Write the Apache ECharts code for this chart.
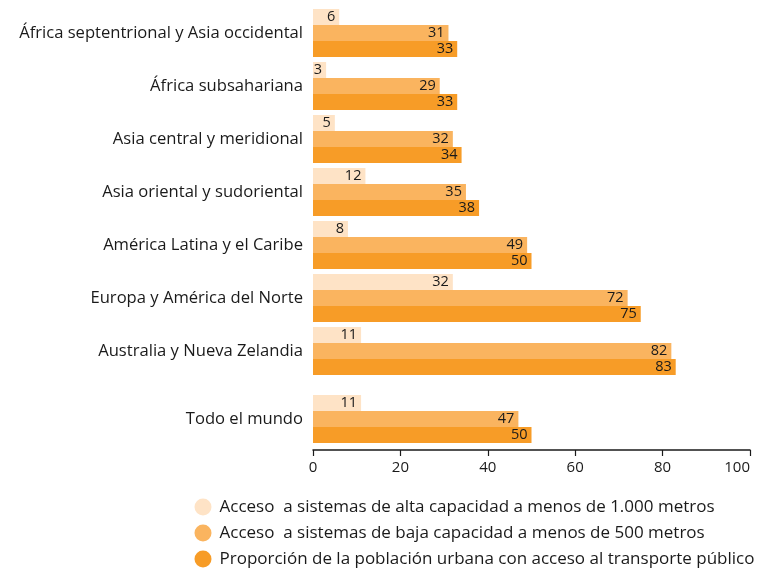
<!DOCTYPE html>
<html>
<head>
<meta charset="utf-8">
<script src="https://cdn.jsdelivr.net/npm/echarts@6/dist/echarts.min.js"></script>
<style>
  html, body { margin: 0; padding: 0; background: #fff; }
  #chart { width: 765px; height: 568px; }
</style>
</head>
<body>
<div id="chart"></div>
<script>
// Regions (top block) and the world total (bottom block)
const regions = [
  'África septentrional y Asia occidental',
  'África subsahariana',
  'Asia central y meridional',
  'Asia oriental y sudoriental',
  'América Latina y el Caribe',
  'Europa y América del Norte',
  'Australia y Nueva Zelandia'
];
const worldLabel = ['Todo el mundo'];

const seriesNames = [
  'Acceso  a sistemas de alta capacidad a menos de 1.000 metros',
  'Acceso  a sistemas de baja capacidad a menos de 500 metros',
  'Proporción de la población urbana con acceso al transporte público'
];

// Percentages per region
const altaCapacidad = [6, 3, 5, 12, 8, 32, 11];
const bajaCapacidad = [31, 29, 32, 35, 49, 72, 82];
const transportePublico = [33, 33, 34, 38, 50, 75, 83];

// World totals
const altaMundo = [11];
const bajaMundo = [47];
const publicoMundo = [50];

const xTicks = [0, 20, 40, 60, 80, 100];

const colors = ['#FEE3C6', '#FAB45F', '#F79C27'];
const font = '"Open Sans", "Noto Sans", sans-serif';

const chart = echarts.init(document.getElementById('chart'));

function barSeries(name, data, idx, axisIdx) {
  return {
    name: name,
    type: 'bar',
    xAxisIndex: axisIdx,
    yAxisIndex: axisIdx,
    data: data,
    barWidth: 16,
    barGap: '0%',
    itemStyle: { color: colors[idx] },
    label: {
      show: true,
      position: 'insideRight',
      distance: 4,
      color: '#1a1a1a',
      fontSize: 14.5,
      fontFamily: font
    },
    emphasis: { disabled: true }
  };
}

const option = {
  animation: false,
  color: colors,
  grid: [
    { left: 313, right: 15, top: 6.5, height: 371, containLabel: false },
    { left: 313, right: 15, top: 388, height: 62, containLabel: false }
  ],
  xAxis: [
    { gridIndex: 0, type: 'value', min: xTicks[0], max: xTicks[xTicks.length - 1], interval: 20,
      show: false },
    { gridIndex: 1, type: 'value', min: xTicks[0], max: xTicks[xTicks.length - 1], interval: 20,
      axisLine: { show: true, lineStyle: { color: '#1a1a1a', width: 1.5 } },
      axisTick: { show: true, length: 6, lineStyle: { color: '#1a1a1a', width: 1.2 } },
      splitLine: { show: false },
      axisLabel: { color: '#1a1a1a', fontSize: 15, fontFamily: font, margin: 10,
        alignMaxLabel: 'right' } }
  ],
  yAxis: [
    { gridIndex: 0, type: 'category', inverse: true, data: regions,
      axisLine: { show: false }, axisTick: { show: false },
      axisLabel: { color: '#1a1a1a', fontSize: 16.6, fontFamily: font, margin: 10 } },
    { gridIndex: 1, type: 'category', inverse: true, data: worldLabel,
      axisLine: { show: false }, axisTick: { show: false },
      axisLabel: { color: '#1a1a1a', fontSize: 16.6, fontFamily: font, margin: 10 } }
  ],
  legend: {
    orient: 'vertical',
    left: 194.5,
    top: 498.5,
    padding: 0,
    icon: 'circle',
    itemWidth: 17,
    itemHeight: 17,
    itemGap: 9,
    data: seriesNames,
    textStyle: { color: '#1a1a1a', fontSize: 17, fontFamily: font, padding: [0, 0, 0, 3] }
  },
  series: [
    barSeries(seriesNames[0], altaCapacidad, 0, 0),
    barSeries(seriesNames[1], bajaCapacidad, 1, 0),
    barSeries(seriesNames[2], transportePublico, 2, 0),
    barSeries(seriesNames[0], altaMundo, 0, 1),
    barSeries(seriesNames[1], bajaMundo, 1, 1),
    barSeries(seriesNames[2], publicoMundo, 2, 1)
  ]
};

chart.setOption(option);
</script>
</body>
</html>
